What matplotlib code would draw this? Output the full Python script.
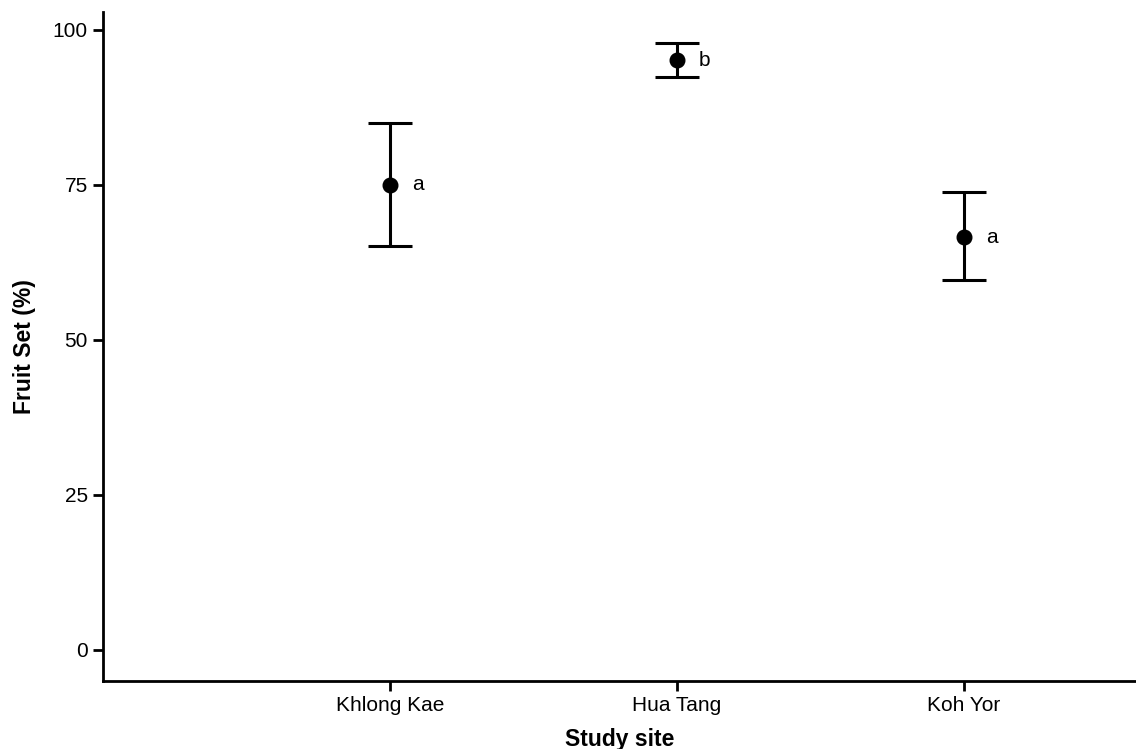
import matplotlib.pyplot as plt

plt.rcParams['font.family'] = ['Liberation Sans', 'DejaVu Sans']

sites = ['Khlong Kae', 'Hua Tang', 'Koh Yor']
fruit_set = [75.0, 95.1, 66.6]
lower = [65.2, 92.4, 59.6]
upper = [85.0, 97.9, 73.8]
letters = ['a', 'b', 'a']

x = list(range(len(sites)))
yerr = [[m - lo for m, lo in zip(fruit_set, lower)],
        [hi - m for m, hi in zip(fruit_set, upper)]]

fig = plt.figure(figsize=(11.36, 7.49), dpi=100)
ax = fig.add_axes([0.0907, 0.0908, 0.9093, 0.8932])

ax.errorbar(x, fruit_set, yerr=yerr, fmt='o', color='black', ms=10.5,
            elinewidth=2.2, capsize=15.5, capthick=2.2)

for xi, yi, lab in zip(x, fruit_set, letters):
    ax.annotate(lab, (xi, yi), xytext=(16, 0), textcoords='offset points',
                ha='left', va='center', fontsize=15)

ax.set_xlim(-1.0, 2.6)
ax.set_ylim(-5.0, 102.9)
ax.set_xticks(x)
ax.set_xticklabels(sites)
ax.set_yticks([0, 25, 50, 75, 100])

for side in ['top', 'right']:
    ax.spines[side].set_visible(False)
for side in ['left', 'bottom']:
    ax.spines[side].set_linewidth(2)
ax.tick_params(width=2, length=7, labelsize=15, pad=4)

ax.set_xlabel('Study site', fontsize=16.5, fontweight='bold', labelpad=9)
ax.set_ylabel('Fruit Set (%)', fontsize=16.5, fontweight='bold', labelpad=12)

fig.savefig('out.png', dpi=100)
